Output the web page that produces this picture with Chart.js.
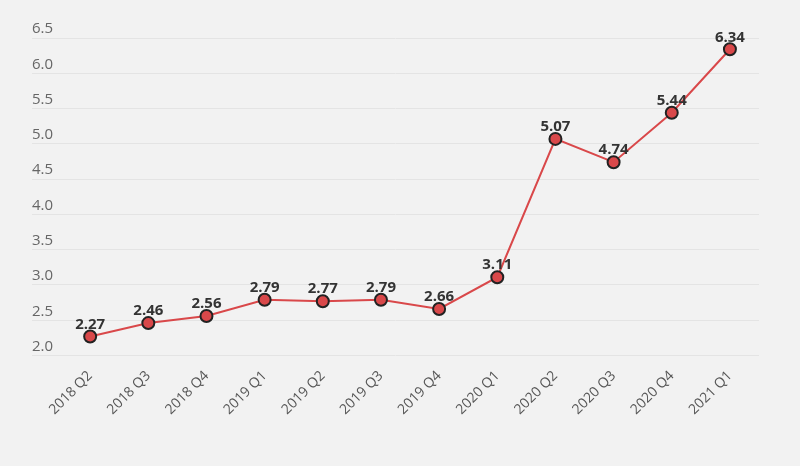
<!DOCTYPE html>
<html>
<head>
<meta charset="utf-8">
<script src="https://cdn.jsdelivr.net/npm/chart.js@4/dist/chart.umd.min.js"></script>
<style>
  html, body { margin: 0; padding: 0; background: #f2f2f2; }
  #wrap { width: 800px; height: 466px; }
</style>
</head>
<body>
<div id="wrap"><canvas id="c" width="800" height="466"></canvas></div>
<script>
const categories = ["2018 Q2","2018 Q3","2018 Q4","2019 Q1","2019 Q2","2019 Q3","2019 Q4","2020 Q1","2020 Q2","2020 Q3","2020 Q4","2021 Q1"];
const values = [2.27, 2.46, 2.56, 2.79, 2.77, 2.79, 2.66, 3.11, 5.07, 4.74, 5.44, 6.34];
const yTicks = [2.0, 2.5, 3.0, 3.5, 4.0, 4.5, 5.0, 5.5, 6.0, 6.5];

const FONT = "'Open Sans', 'Liberation Sans', sans-serif";

const valueLabels = {
  id: 'valueLabels',
  afterDatasetsDraw(chart) {
    const ctx = chart.ctx;
    const meta = chart.getDatasetMeta(0);
    ctx.save();
    ctx.font = "bold 15px " + FONT;
    ctx.fillStyle = '#333333';
    ctx.textAlign = 'center';
    ctx.textBaseline = 'middle';
    meta.data.forEach((pt, i) => {
      ctx.fillText(values[i].toFixed(2), pt.x, pt.y - 12);
    });
    ctx.restore();
  }
};

new Chart(document.getElementById('c'), {
  type: 'line',
  data: {
    datasets: [{
      data: values.map((v, i) => ({ x: i, y: v })),
      borderColor: '#d9484a',
      borderWidth: 2,
      backgroundColor: '#d9484a',
      pointBackgroundColor: '#d9484a',
      pointBorderColor: '#222222',
      pointBorderWidth: 2,
      pointRadius: 6,
      tension: 0
    }]
  },
  options: {
    responsive: false,
    animation: false,
    layout: { padding: { left: 32, right: 41, top: 38, bottom: 44 } },
    plugins: { legend: { display: false }, tooltip: { enabled: false } },
    scales: {
      x: {
        type: 'linear',
        min: -1,
        max: 11.5,
        grid: { display: false },
        border: { display: false },
        afterBuildTicks(scale) { scale.ticks = categories.map((c, i) => ({ value: i })); },
        ticks: {
          autoSkip: false,
          minRotation: 45,
          maxRotation: 45,
          padding: 4,
          color: '#555555',
          font: { family: FONT, size: 14 },
          callback: (v) => categories[v]
        }
      },
      y: {
        min: 2.0,
        max: 6.5,
        afterBuildTicks(scale) { scale.ticks = yTicks.map(v => ({ value: v })); },
        grid: { color: '#e4e4e4', lineWidth: 1, drawTicks: false },
        border: { display: false },
        ticks: {
          mirror: true,
          padding: 0,
          labelOffset: -9,
          color: '#666666',
          font: { family: FONT, size: 15 },
          callback: (v) => v.toFixed(1)
        }
      }
    }
  },
  plugins: [valueLabels]
});
</script>
</body>
</html>
